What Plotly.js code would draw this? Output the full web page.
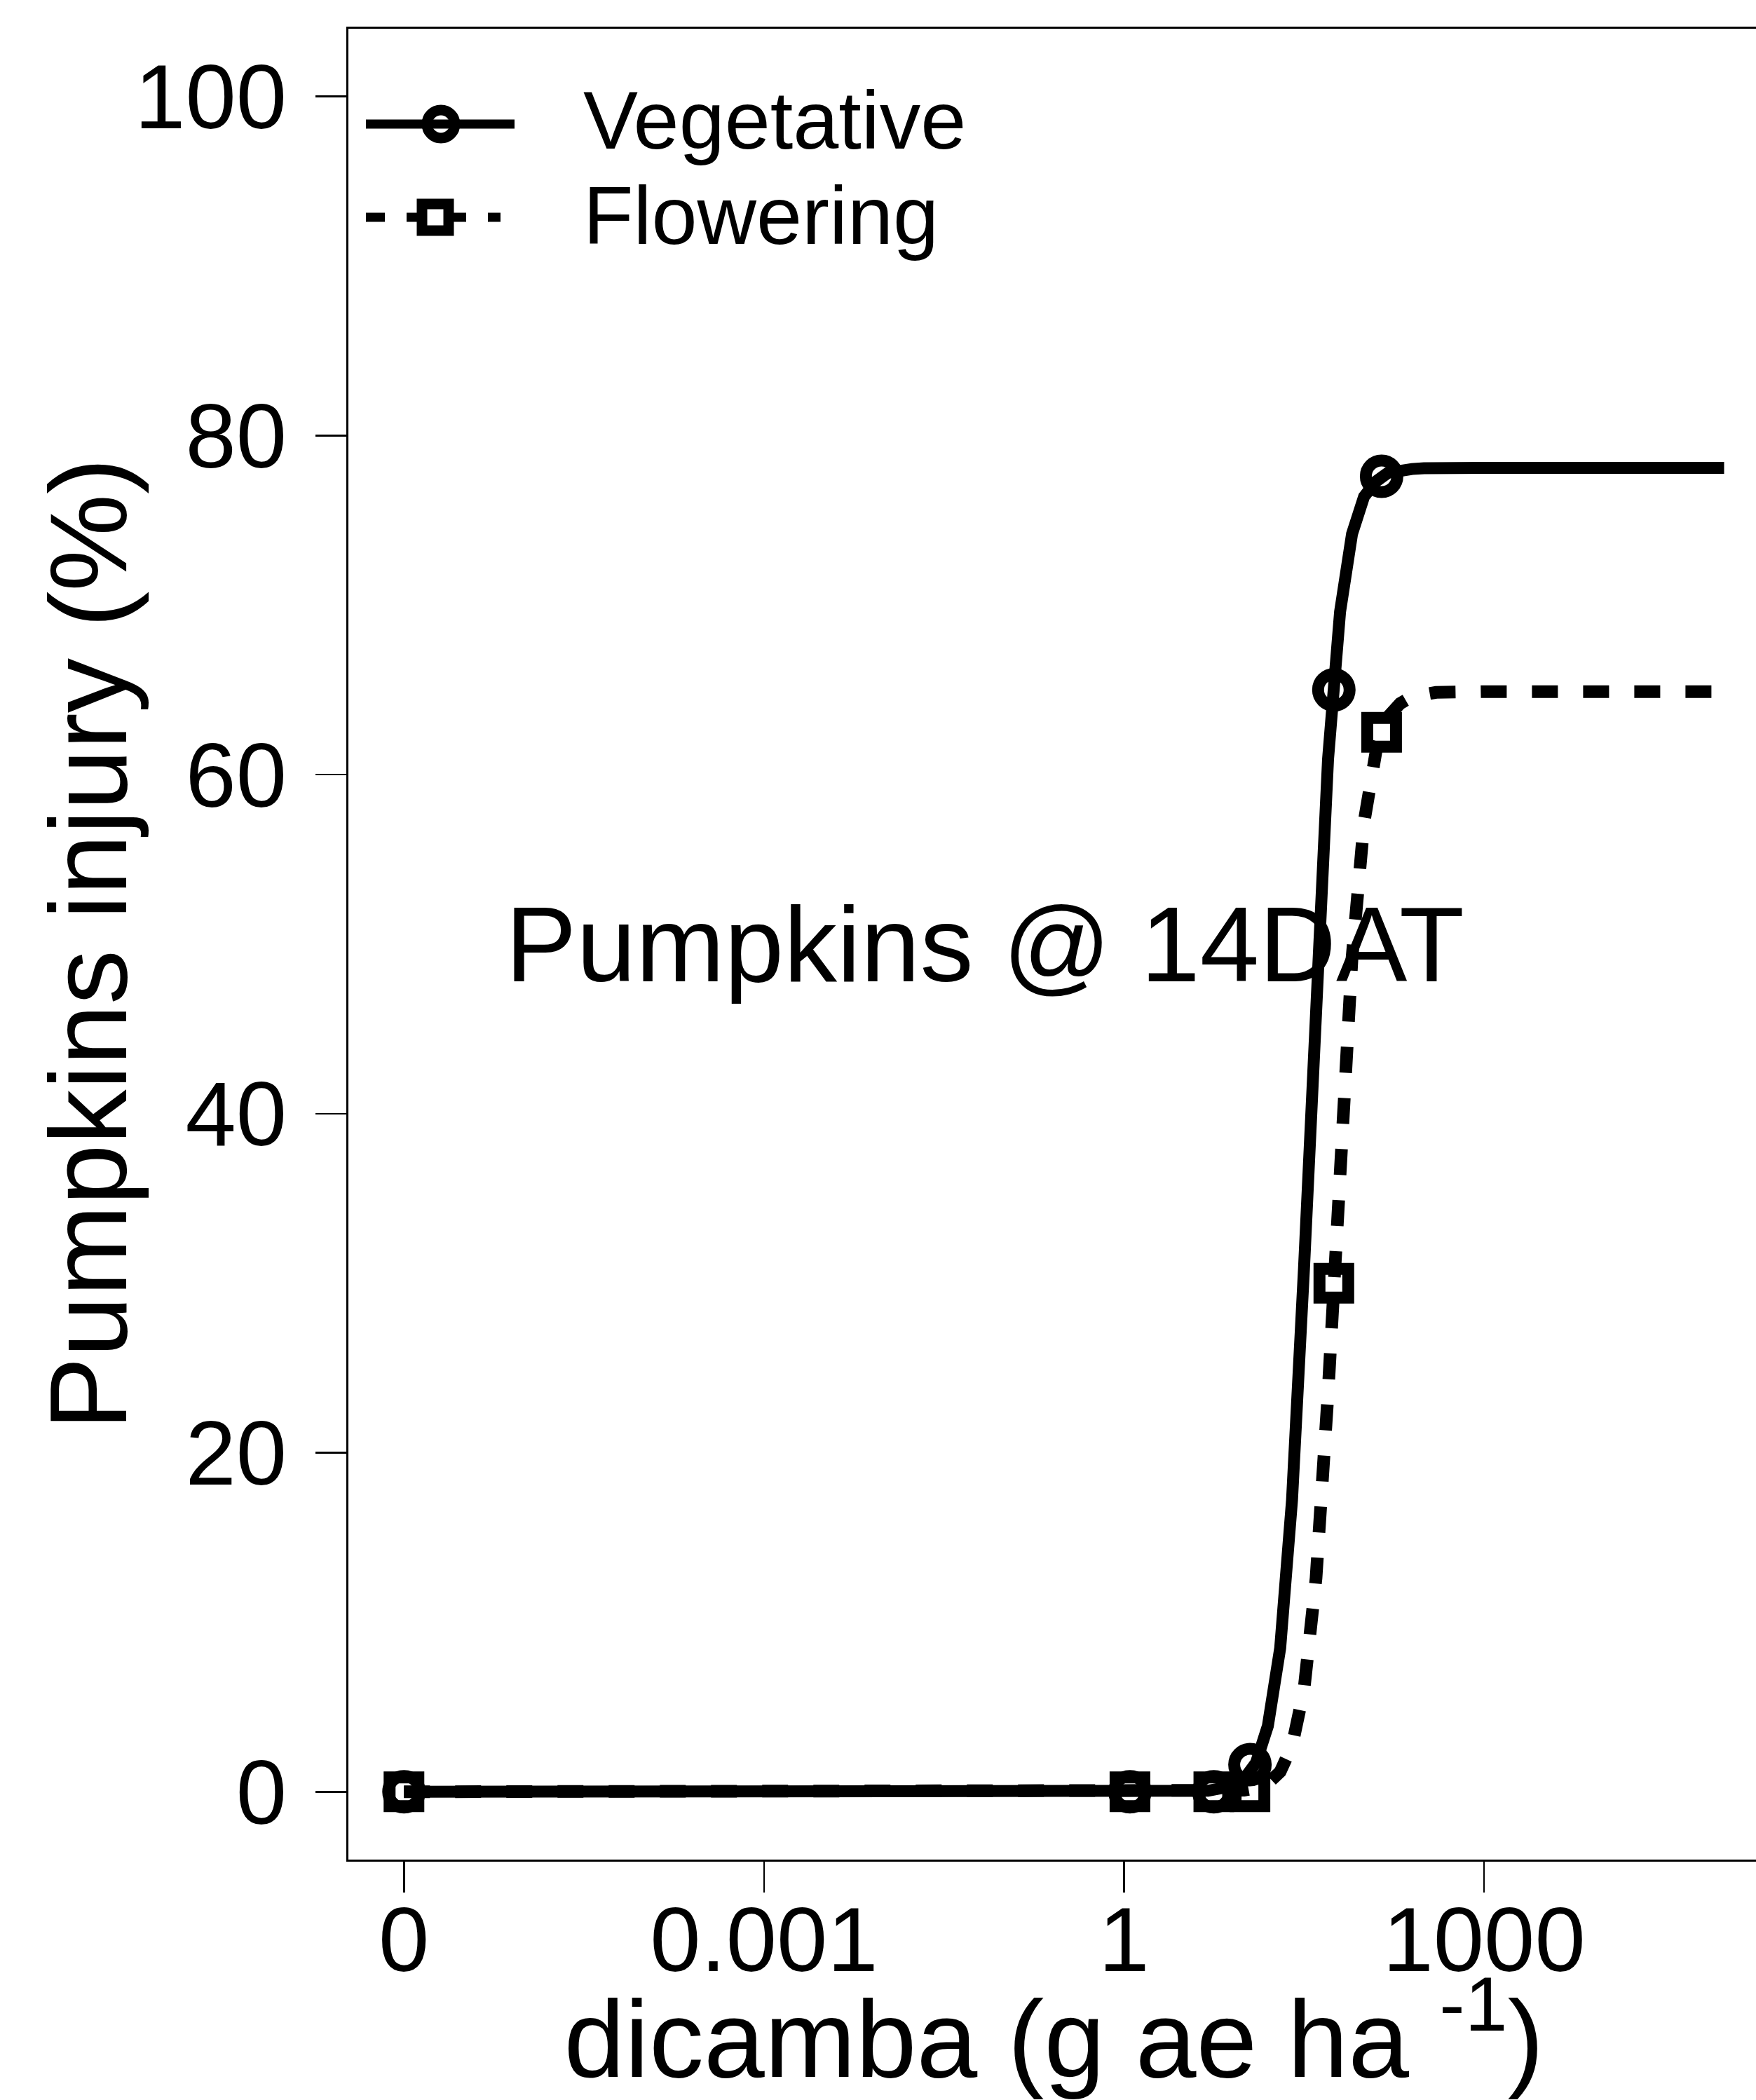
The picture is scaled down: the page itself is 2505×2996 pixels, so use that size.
<!DOCTYPE html>
<html>
<head>
<meta charset="utf-8">
<script src="https://cdn.plot.ly/plotly-3.0.1.min.js"></script>
<style>
  html, body { margin: 0; padding: 0; background: #ffffff; overflow: hidden; }
  #chart { width: 2560px; height: 2996px; }
</style>
</head>
<body>
<div id="chart"></div>
<script>
// Observed injury (%) by dicamba dose (g ae/ha) and growth stage
const doses = [0, 1.12, 5.6, 11.2, 56, 140];
const vegetativeInjury = [0, 0, 0, 1.6, 65, 77.6];
const floweringInjury = [0, 0, 0, 0, 30, 62.5];

// Position on the log axis used for the untreated (0) dose
const zeroDosePosition = 1e-6;

// Fitted dose-response curves
const curveDoses = [1e-6, 1, 5.01, 7.94, 10, 12.6, 15.8, 20, 25.1, 31.6, 39.8, 50.1, 63.1,
                    79.4, 100, 126, 158, 200, 251, 316, 398, 1000, 1e5];
const vegetativeCurve = [0, 0, 0.06, 0.33, 0.75, 1.72, 3.89, 8.47, 17.2, 30.9, 47.2, 60.9, 69.6,
                         74.2, 76.4, 77.3, 77.8, 77.96, 78.03, 78.07, 78.09, 78.1, 78.1];
const floweringCurve = [0, 0, 0, 0.04, 0.09, 0.22, 0.5, 1.18, 2.7, 6.03, 12.6, 23.5, 37.1,
                        49.2, 57.2, 61.4, 63.4, 64.2, 64.6, 64.8, 64.85, 64.9, 64.9];

// Axis ticks
const xTickVals = [1e-6, 0.001, 1, 1000];
const xTickText = ['0', '0.001', '1', '1000'];
const yTickVals = [0, 20, 40, 60, 80, 100];

const seriesNames = ['Vegetative', 'Flowering'];

const FONT = '"Liberation Sans", Arial, Helvetica, sans-serif';
const plotX = doses.map(d => d === 0 ? zeroDosePosition : d);

// Legend key geometry (pixel frame of the plotting region)
const legendKeyX = [522, 734];
const legendKeyXFlower = [522, 714];
const legendMarkerX = 629;
const legendRowY = [177, 310];
const legendTextX = 830;

const traces = [
  {
    x: curveDoses, y: vegetativeCurve, mode: 'lines', xaxis: 'x', yaxis: 'y',
    line: { color: '#000', width: 17, shape: 'linear' }, hoverinfo: 'skip', showlegend: false
  },
  {
    x: plotX, y: vegetativeInjury, mode: 'markers', name: seriesNames[0], showlegend: false,
    marker: { symbol: 'circle-open', size: 45, color: '#000', line: { width: 17, color: '#000' } }
  },
  {
    x: curveDoses, y: floweringCurve, mode: 'lines', xaxis: 'x', yaxis: 'y',
    line: { color: '#000', width: 18, dash: '37px,36px' }, hoverinfo: 'skip', showlegend: false
  },
  {
    x: plotX, y: floweringInjury, mode: 'markers', name: seriesNames[1], showlegend: false,
    marker: { symbol: 'square-open', size: 41, color: '#000', line: { width: 17, color: '#000' } }
  },
  // legend keys
  {
    x: legendKeyX, y: [legendRowY[0], legendRowY[0]], xaxis: 'x2', yaxis: 'y2', mode: 'lines',
    line: { color: '#000', width: 13 }, showlegend: false, hoverinfo: 'skip'
  },
  {
    x: [legendMarkerX], y: [legendRowY[0]], xaxis: 'x2', yaxis: 'y2', mode: 'markers',
    marker: { symbol: 'circle-open', size: 40, color: '#000', line: { width: 15, color: '#000' } },
    showlegend: false, hoverinfo: 'skip'
  },
  {
    x: legendKeyXFlower, y: [legendRowY[1], legendRowY[1]], xaxis: 'x2', yaxis: 'y2', mode: 'lines',
    line: { color: '#000', width: 13, dash: '27px,31px' }, showlegend: false, hoverinfo: 'skip'
  },
  {
    x: [legendMarkerX - 8], y: [legendRowY[1]], xaxis: 'x2', yaxis: 'y2', mode: 'markers',
    marker: { symbol: 'square-open', size: 38, color: '#000', line: { width: 15, color: '#000' } },
    showlegend: false, hoverinfo: 'skip'
  }
];

const layout = {
  width: 2560,
  height: 2996,
  margin: { l: 497, r: 50, t: 41, b: 343, pad: 0 },
  paper_bgcolor: '#ffffff',
  plot_bgcolor: '#ffffff',
  showlegend: false,
  font: { family: FONT, color: '#000' },
  xaxis: {
    type: 'log',
    range: [-6.463, 5.295],
    tickvals: xTickVals,
    ticktext: xTickText,
    ticks: 'outside', ticklen: 44, tickwidth: 2.5, tickcolor: '#000',
    ticklabelstandoff: -44,
    tickfont: { family: FONT, size: 130, color: '#000' },
    showline: true, linecolor: '#000', linewidth: 3, mirror: true,
    showgrid: false, zeroline: false,
    title: { text: 'dicamba (g ae ha <sup>-1</sup>)', font: { family: FONT, size: 156, color: '#000' }, standoff: 50 }
  },
  yaxis: {
    range: [-4, 104],
    tickvals: yTickVals,
    ticks: 'outside', ticklen: 44, tickwidth: 2.5, tickcolor: '#000',
    ticklabelstandoff: 15,
    tickfont: { family: FONT, size: 130, color: '#000' },
    showline: true, linecolor: '#000', linewidth: 3, mirror: true,
    showgrid: false, zeroline: false
  },
  xaxis2: { overlaying: 'x', range: [497, 2510], visible: false, fixedrange: true },
  yaxis2: { overlaying: 'y', range: [2653, 41], visible: false, fixedrange: true },
  annotations: [
    {
      text: 'Pumpkins injury (%)', textangle: -90,
      xref: 'paper', yref: 'paper', x: (126 - 497) / 2013, y: 0.5,
      xanchor: 'center', yanchor: 'middle', showarrow: false,
      font: { family: FONT, size: 156, color: '#000' }
    },
    {
      text: 'Pumpkins @ 14DAT',
      xref: 'x', yref: 'y', x: -1.16, y: 50,
      xanchor: 'center', yanchor: 'middle', showarrow: false,
      font: { family: FONT, size: 152, color: '#000' }
    },
    {
      text: seriesNames[0], xref: 'x2', yref: 'y2', x: legendTextX, y: 171,
      xanchor: 'left', yanchor: 'middle', showarrow: false,
      font: { family: FONT, size: 117, color: '#000' }
    },
    {
      text: seriesNames[1], xref: 'x2', yref: 'y2', x: legendTextX, y: 307,
      xanchor: 'left', yanchor: 'middle', showarrow: false,
      font: { family: FONT, size: 117, color: '#000' }
    }
  ]
};

Plotly.newPlot('chart', traces, layout, { displayModeBar: false, responsive: false, staticPlot: true });
</script>
</body>
</html>
